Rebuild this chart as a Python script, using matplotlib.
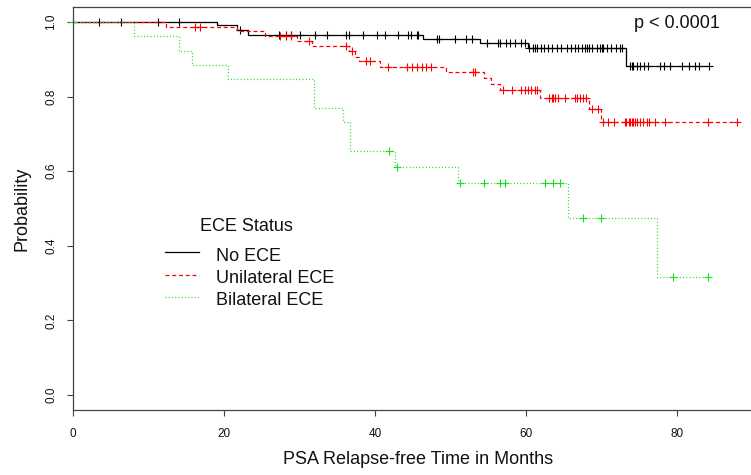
import numpy as np
import matplotlib
matplotlib.use("Agg")
import matplotlib.pyplot as plt

plt.rcParams['font.family'] = ['Liberation Sans', 'DejaVu Sans']

# ---------------- data ----------------
groups = ["No ECE", "Unilateral ECE", "Bilateral ECE"]

# No ECE
no_ece_times = [0, 19.1, 21.7, 23.2, 46.4, 53.9, 60.2, 73.2]
no_ece_surv = [1.0, 0.993, 0.978, 0.966, 0.954, 0.943, 0.929, 0.883]
no_ece_end = 84.3
no_ece_cens = [3.4, 6.4, 11.3, 14.0, 22.1,
               27.3, 28.2, 28.9, 30.0, 32.1, 33.7, 36.2, 36.6, 38.4, 40.3, 41.3,
               43.1, 44.4, 44.8, 45.5, 45.7,
               48.2, 48.5, 50.6, 52.1, 52.8,
               54.8, 56.3, 56.6, 57.3, 57.9, 58.6, 59.3, 59.9,
               60.4, 60.9, 61.2, 61.5, 62.0, 62.4, 62.9, 63.5, 64.1, 64.6, 65.4,
               66.0, 66.5, 66.9, 67.4, 67.8, 68.1, 68.4, 68.7, 69.4, 69.8, 70.0,
               70.2, 70.7, 71.3, 71.9, 72.5, 72.7,
               73.8, 74.0, 74.2, 74.7, 75.1, 75.6, 76.2, 77.8, 78.3, 79.1, 80.6,
               81.6, 82.4, 82.9, 84.3]

# Unilateral ECE
uni_times = [0, 12.3, 21.7, 25.4, 29.7, 31.6, 36.6, 37.3, 37.9, 40.6, 49.4,
             54.5, 55.4, 56.6, 61.8, 68.4, 69.9]
uni_surv = [1.0, 0.987, 0.975, 0.963, 0.948, 0.936, 0.921, 0.907, 0.894, 0.880,
            0.865, 0.849, 0.833, 0.818, 0.796, 0.766, 0.732]
uni_end = 88.0
uni_cens = [16.2, 16.8, 27.4, 28.2, 28.9, 31.2, 36.2, 36.9, 38.8, 39.3,
            41.7, 44.2, 44.9, 45.5, 46.2, 46.8, 47.4, 53.0, 53.3,
            56.9, 58.1, 59.4, 59.8, 60.3, 60.7, 61.2, 61.5,
            63.1, 63.4, 63.6, 63.8, 64.3, 65.2, 66.5, 66.8, 67.2, 67.6, 68.0,
            68.7, 69.6,
            70.2, 70.9, 71.6, 73.1, 73.3, 73.6, 73.8, 74.0, 74.2, 74.4, 74.7,
            75.1, 75.5, 76.0, 76.3, 77.1, 78.4, 84.1, 88.0]

# Bilateral ECE
bi_times = [0, 8.1, 14.0, 15.7, 20.5, 31.9, 35.7, 36.7, 42.7, 51.0, 65.5, 77.4]
bi_surv = [1.0, 0.962, 0.923, 0.884, 0.847, 0.769, 0.732, 0.653, 0.612, 0.569,
           0.475, 0.316]
bi_end = 84.1
bi_cens = [0.0, 41.9, 42.9, 51.3, 54.5, 56.6, 57.2, 62.5, 63.6, 64.5,
           67.5, 69.9, 79.5, 84.1]

x_ticks = [0, 20, 40, 60, 80]
y_ticks = [0.0, 0.2, 0.4, 0.6, 0.8, 1.0]
p_text = "p < 0.0001"
legend_title = "ECE Status"
xlabel = "PSA Relapse-free Time in Months"
ylabel = "Probability"

# ---------------- styling ----------------
colors = ["#000000", "#FF0000", "#1EDC1E"]
dashes = [None, (3.2, 2.2), (0.8, 1.8)]
lw = 0.9

fig = plt.figure(figsize=(7.51, 4.75), dpi=100)
W, H = 751, 475
ax_l, ax_r, ax_t, ax_b = 73, 764, 7, 410
ax = fig.add_axes([ax_l / W, (H - ax_b) / H, (ax_r - ax_l) / W, (ax_b - ax_t) / H])

series = [
    (no_ece_times, no_ece_surv, no_ece_end, no_ece_cens),
    (uni_times, uni_surv, uni_end, uni_cens),
    (bi_times, bi_surv, bi_end, bi_cens),
]

for (t, s, end, cens), col, dsh in zip(series, colors, dashes):
    tt = np.append(np.array(t, float), end)
    ss = np.append(np.array(s, float), s[-1])
    line, = ax.step(tt, ss, where="post", color=col, lw=lw, clip_on=False)
    if dsh is not None:
        line.set_dashes(dsh)
    c = np.array(cens, float)
    idx = np.searchsorted(np.array(t, float), c, side="right") - 1
    cy = np.array(s, float)[idx]
    ax.plot(c, cy, ls="none", marker="+", ms=5.6, mew=0.8, color=col,
            clip_on=False)

ax.set_xlim(0, 88 * 1.04)
ax.set_ylim(-0.04, 1.04)
ax.set_xticks(x_ticks)
ax.set_xticklabels([str(v) for v in x_ticks])
ax.set_yticks(y_ticks)
ax.set_yticklabels([f"{v:.1f}" for v in y_ticks], rotation=90, va="center")

for sp in ax.spines.values():
    sp.set_color("#444444")
    sp.set_linewidth(0.9)
ax.tick_params(axis="both", direction="out", length=4.3, width=0.8,
               color="#444444", labelsize=8.5, labelcolor="#111111")
ax.tick_params(axis="x", pad=9)
ax.tick_params(axis="y", pad=7)

ax.set_xlabel(xlabel, fontsize=13, color="#111111")
ax.xaxis.label.set_va("center")
ax.xaxis.set_label_coords(0.5, (ax_b - 460) / (ax_b - ax_t))
ax.set_ylabel(ylabel, fontsize=13, color="#111111")
ax.yaxis.label.set_va("center")
ax.yaxis.set_label_coords((22 - ax_l) / (ax_r - ax_l), 0.5)

# p-value annotation
ax.text(85.7, 0.9825, p_text, ha="right", va="baseline", fontsize=13,
        color="#111111")

# legend (drawn manually to match R's legend layout)
ax.text(16.8, 0.4395, legend_title, ha="left", va="baseline", fontsize=13,
        color="#111111")
row_line_y = [0.3825, 0.322, 0.264]
row_text_y = [0.358, 0.300, 0.242]
for name, col, dsh, ly, ty in zip(groups, colors, dashes, row_line_y, row_text_y):
    ln, = ax.plot([12.2, 16.7], [ly, ly], color=col, lw=lw)
    if dsh is not None:
        ln.set_dashes(dsh)
    ax.text(18.9, ty, name, ha="left", va="baseline", fontsize=13,
            color="#111111")

fig.savefig("out.png", dpi=100)
